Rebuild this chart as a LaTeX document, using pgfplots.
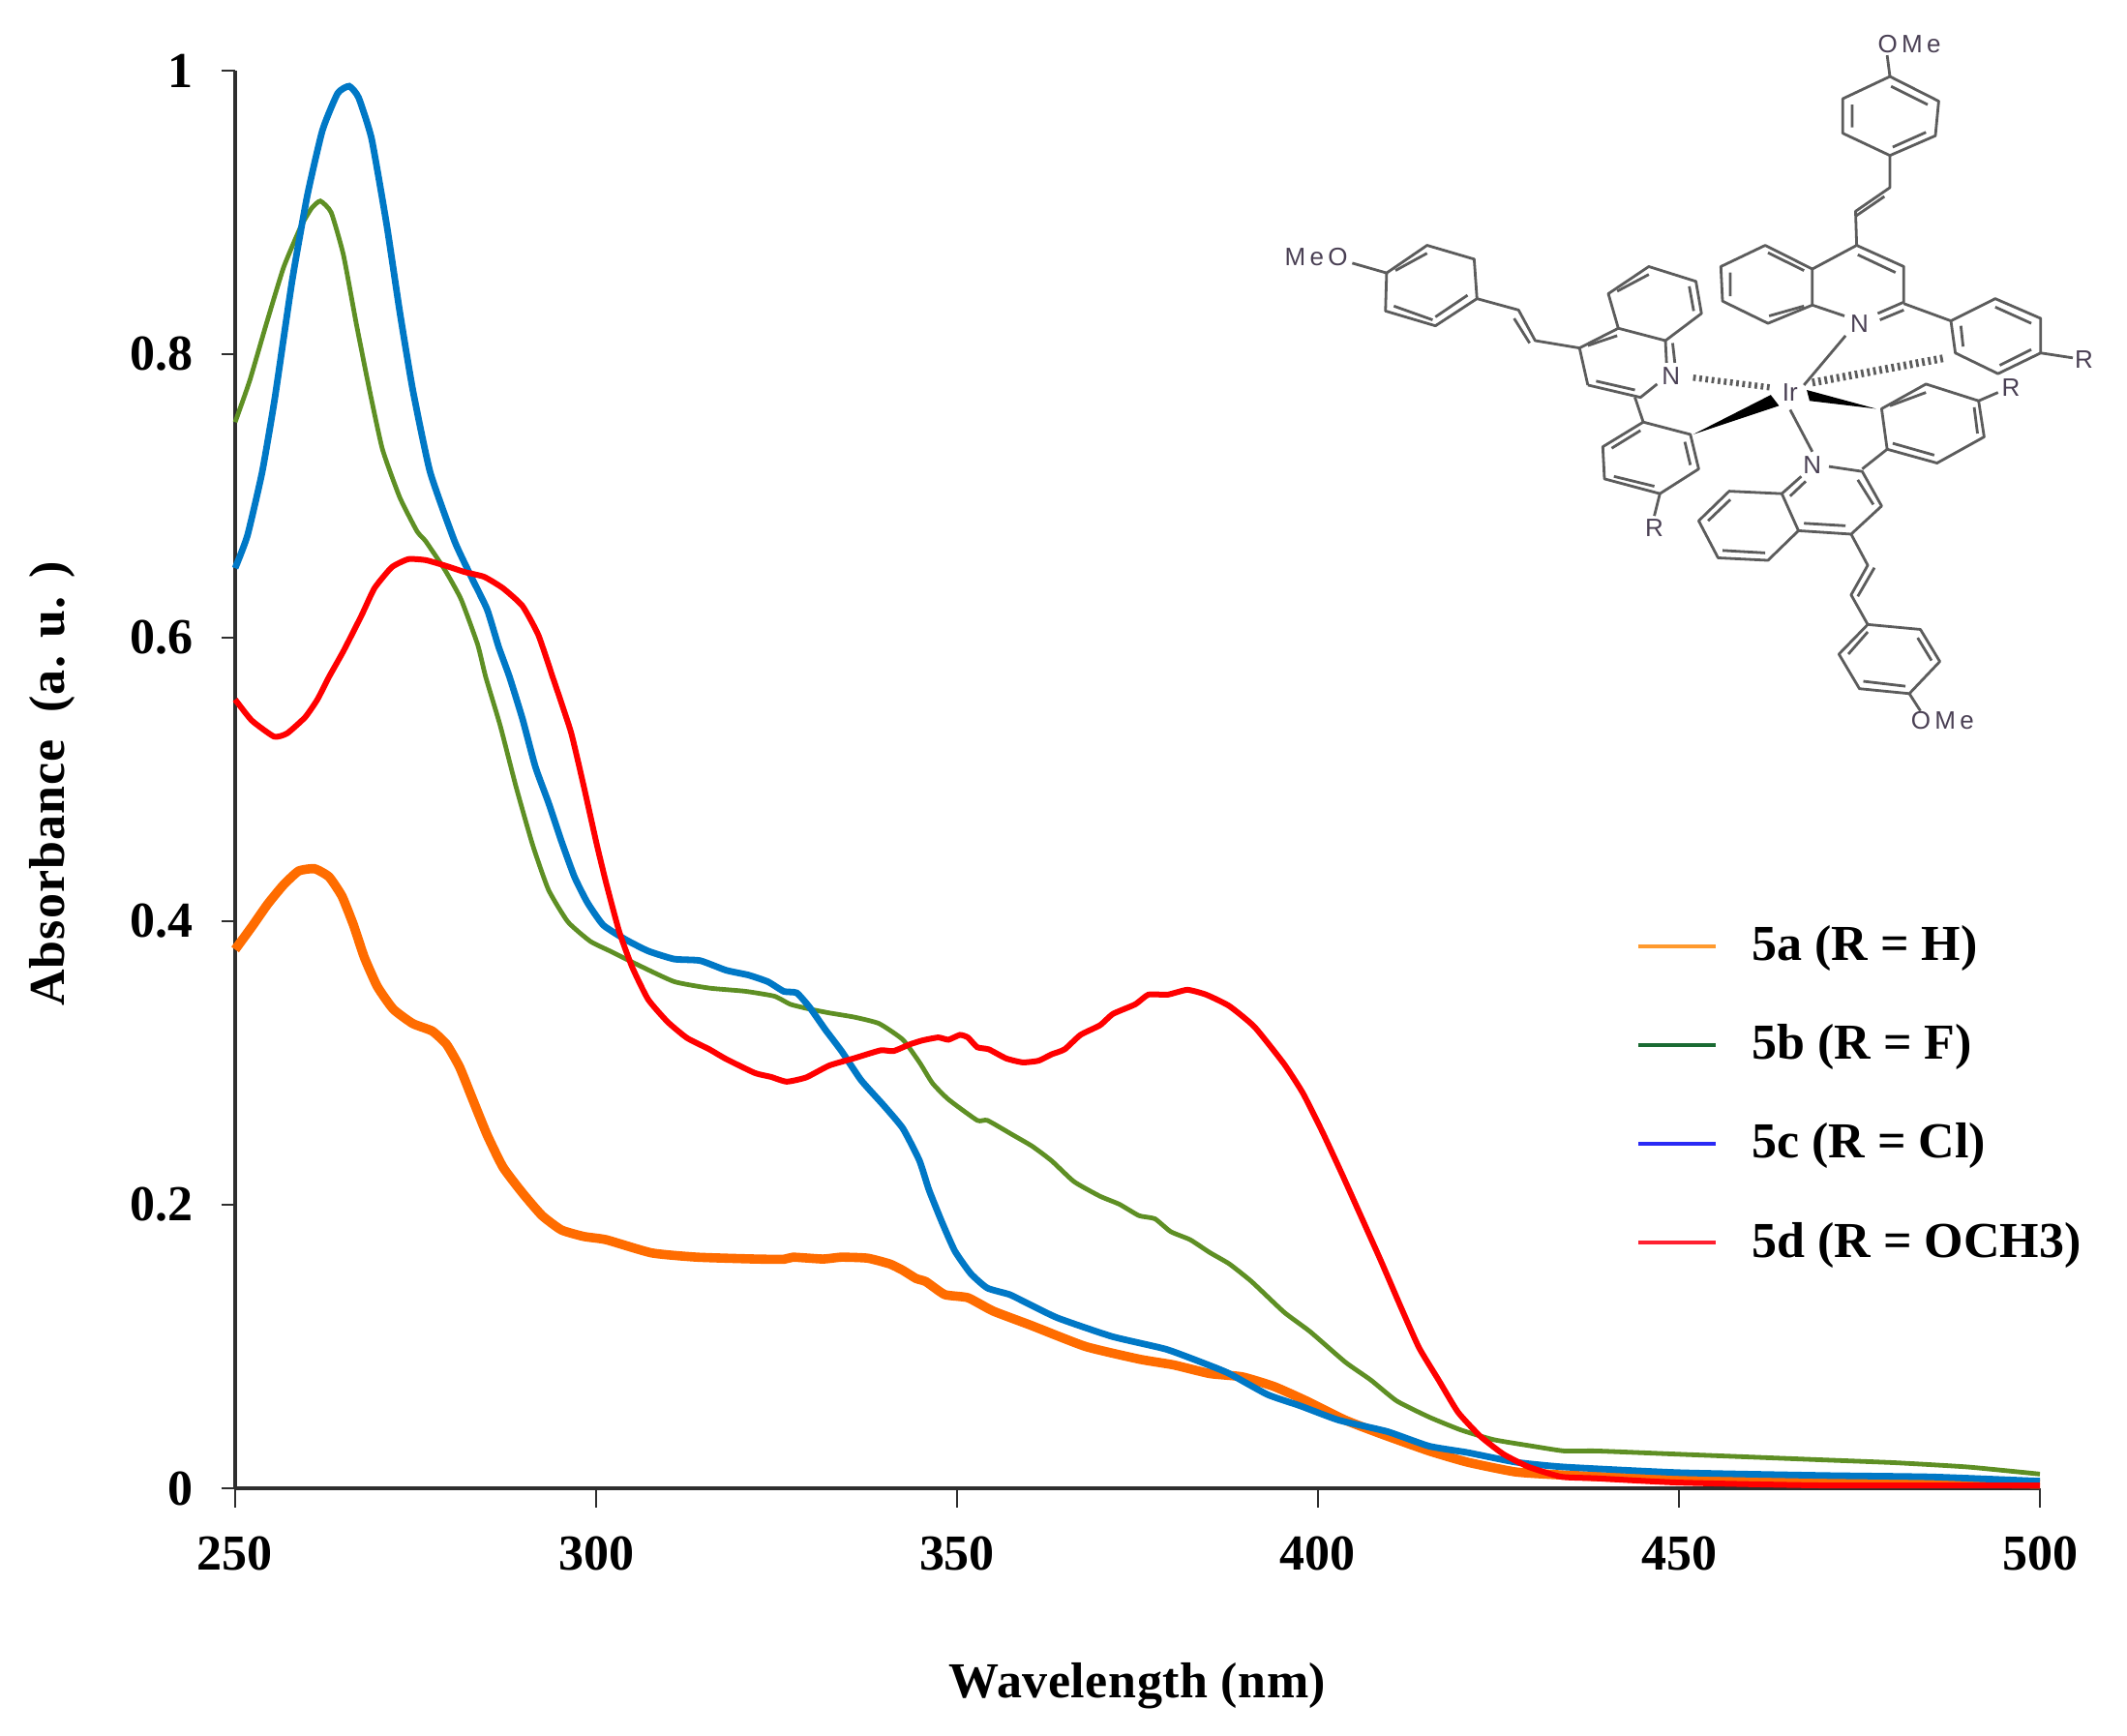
\documentclass[border=0pt]{standalone}
\usepackage{fontspec}
\setmainfont{Liberation Serif}
\newfontfamily\chemfont{Liberation Sans}
\usepackage{pgfplots}
\pgfplotsset{compat=1.18}

\definecolor{curveorange}{HTML}{FF6C00}
\definecolor{curvegreen}{HTML}{5E8F24}
\definecolor{curveblue}{HTML}{0078C6}
\definecolor{curvered}{HTML}{FF0000}
\definecolor{legorange}{HTML}{FF9A2E}
\definecolor{leggreen}{HTML}{1B6B33}
\definecolor{legblue}{HTML}{2A2AF5}
\definecolor{legred}{HTML}{FF2030}
\definecolor{chemline}{HTML}{5C5C5C}
\definecolor{chemtext}{HTML}{4A4054}
\definecolor{axisdark}{HTML}{2E2E2E}

\begin{document}
\begin{tikzpicture}
\useasboundingbox (-60.75pt,-64pt) rectangle (488.75pt,384.5pt);
\begin{axis}[
  scale only axis,
  width=466.25pt, height=366.25pt,
  xmin=250, xmax=500, ymin=0, ymax=1,
  axis x line=bottom, axis y line=left,
  x axis line style={-, axisdark, line width=1pt},
  y axis line style={-, axisdark, line width=0.8pt},
  xtick={250,300,350,400,450,500},
  ytick={0,0.2,0.4,0.6,0.8,1},
  tick align=outside,
  xtick style={axisdark, line width=0.6pt, /pgfplots/major tick length=5pt},
  ytick style={axisdark, line width=0.6pt, /pgfplots/major tick length=3.5pt},
  minor tick num=0,
  /pgf/number format/assume math mode=true,
  tick label style={font=\fontsize{13}{15}\selectfont\bfseries},
  xticklabel style={yshift=-4.75pt},
  yticklabel style={xshift=-3pt},
  xlabel={Wavelength (nm)},
  ylabel={Absorbance\ \ (a. u. )},
  xlabel style={font=\fontsize{13}{15}\selectfont\bfseries\addfontfeature{LetterSpace=1},
    at={(axis description cs:0.5,0)}, yshift=-51pt, anchor=center},
  ylabel style={font=\fontsize{13}{15}\selectfont\bfseries\addfontfeature{LetterSpace=2},
    at={(axis description cs:0,0.497)}, yshift=47.25pt, anchor=center},
  clip=false,
  legend cell align=left,
  legend image code/.code={\draw[#1] (0pt,0pt) -- (20pt,0pt); \path[draw=none] (0pt,0pt) -- (29.3pt,0pt);},
  legend style={
    at={(0.7759,0.3973)}, anchor=north west, draw=none, fill=none,
    inner sep=0pt, row sep=15pt,
    font=\fontsize{13}{15}\selectfont\bfseries,
    nodes={inner sep=0pt, anchor=west},
  },
]
% 5a
\addplot[forget plot, curveorange, line width=2.4pt, smooth, tension=0.3] coordinates {
(250,.380) (252.3,.396) (254.5,.412) (256.7,.4256) (258.8,.4354) (261,.437) (263,.4313)
(264.8,.4176) (266.4,.3972) (267.9,.3744) (269.7,.3539) (271.9,.338) (274.6,.3278)
(277.3,.3225) (279.3,.313) (281.1,.297) (282.9,.2743) (284.9,.2493) (287.1,.2265)
(289.8,.2083) (292.5,.1924) (295.2,.1822) (298.3,.1776) (301.4,.1753) (307.7,.166)
(314,.163) (322,.1617) (326,.1615) (327.3,.163) (331.4,.1617) (334,.163) (337.6,.1623)
(340.7,.1582) (342.5,.1537) (344.3,.148) (345.7,.1457) (348.3,.1366) (351.5,.1344)
(355,.125) (360.2,.115) (367.8,.1) (375.3,.091) (380,.087) (385,.0809) (389.5,.0786)
(393.9,.0718) (398.4,.0616) (403.8,.048) (409.1,.0377) (415.4,.0263) (420.7,.0184)
(427.4,.0115) (434.1,.0093) (450,.006) (470,.005) (500,.003)
};
% 5b
\addplot[forget plot, curvegreen, line width=1.2pt, smooth, tension=0.3] coordinates {
(250,.752) (252,.781) (254.3,.821) (256.7,.861) (259.1,.89) (260.6,.903) (261.8,.908)
(263.3,.9) (265,.87) (266.8,.821) (268.6,.775) (270.4,.733) (272.8,.699) (275.2,.675)
(276.4,.668) (279.1,.6474) (281.3,.627) (283.6,.595) (284.7,.5724) (286.7,.5383)
(288.9,.495) (291.2,.454) (293.4,.4222) (296.1,.3995) (299.2,.3858) (301.9,.379)
(305.5,.3699) (310.8,.3574) (315.7,.3528) (320.6,.3506) (324.7,.3471) (326.9,.3414)
(329.6,.338) (332.3,.3353) (335.8,.3323) (339.2,.3278) (342.5,.3164) (344.8,.3004)
(346.6,.2857) (348.8,.2743) (352.8,.2595) (354.2,.2595) (357.7,.2493) (360.4,.2413)
(363.1,.231) (366.2,.2163) (369.8,.206) (372.5,.2003) (375.2,.1923) (377.4,.1901)
(379.6,.181) (382.3,.1753) (385,.1663) (387.7,.1583) (390.8,.1458) (395.3,.1242)
(398.9,.1105) (403.8,.0889) (407.3,.0764) (410.9,.0616) (415.4,.0502) (419.8,.0411)
(424.3,.0343) (429.7,.0297) (434.1,.0263) (438.6,.0263) (450,.024) (460,.022) (470,.02)
(480,.018) (490,.015) (500,.01)
};
% 5c
\addplot[forget plot, curveblue, line width=1.7pt, smooth, tension=0.3] coordinates {
(250,.649) (251.7,.672) (253.75,.717) (255.5,.769) (257.9,.852) (260,.912) (262.1,.958)
(264.2,.984) (265.8,.989) (267.1,.981) (268.9,.952) (271,.891) (272.8,.83) (274.6,.775)
(277,.717) (280.4,.668) (282.7,.643) (284.9,.62) (286.5,.5935) (288,.5724) (289.8,.5428)
(291.6,.5087) (293.4,.4837) (295.2,.4564) (297,.4313) (298.8,.4131) (301,.3972)
(304.1,.387) (307.2,.379) (310.8,.3733) (314.4,.3722) (318,.3654) (321.1,.362)
(323.8,.3573) (326,.3505) (327.8,.3494) (329.6,.3391) (331.8,.3232) (334,.3084)
(336.7,.2879) (339.9,.2697) (342.5,.2538) (344.8,.231) (346.1,.2106) (347.9,.1878)
(349.7,.1673) (351.9,.1514) (354.2,.1412) (357.3,.1366) (360,.1298) (364,.12)
(371.5,.107) (379,.098) (385,.0866) (387.7,.0809) (393,.0661) (397.5,.0582) (402.9,.048)
(409.6,.04) (415.4,.0297) (420.7,.0252) (427.4,.0184) (434.1,.015) (450,.011) (470,.009)
(485,.008) (500,.005)
};
% 5d
\addplot[forget plot, curvered, line width=1.5pt, smooth, tension=0.3] coordinates {
(250,.5564) (252.3,.5416) (255.4,.5302) (257.2,.5325) (259.7,.5439) (261.4,.5564)
(263,.5723) (265,.5905) (267.5,.6156) (269.3,.6349) (271.7,.6497) (274,.6554) (276.4,.6547)
(279.1,.6508) (281.8,.6463) (284.5,.6429) (287.1,.6349) (289.8,.6224) (292,.6019)
(294,.572) (296.5,.5337) (298.3,.495) (300.1,.454) (301.4,.4268) (303.2,.3927) (305,.3676)
(307.2,.3449) (309.9,.329) (312.6,.3176) (315.7,.3096) (318,.3028) (322,.2929) (324.2,.2902)
(326.4,.2868) (329.1,.2898) (332.3,.2982) (335.8,.3034) (339.4,.3089) (341.2,.3084)
(343.4,.313) (345.2,.3159) (347.4,.318) (348.8,.3164) (350.4,.3198) (351.5,.318)
(352.8,.3111) (354.4,.3096) (356.8,.3032) (359.1,.3004) (361.3,.3016) (363.1,.3061)
(364.9,.3096) (367.1,.3198) (369.8,.3266) (371.6,.3346) (374.7,.3414) (376.5,.3482)
(379.2,.3482) (381.9,.3516) (384.5,.3482) (387.7,.3402) (391.2,.3255) (395.3,.2993)
(397.9,.2788) (400.6,.2515) (403.3,.2219) (405.5,.197) (408.7,.1606) (411.4,.1287)
(414,.0991) (416.7,.0764) (419.4,.0536) (422.5,.0366) (425.7,.024) (429.2,.015)
(433.7,.0081) (438.6,.007) (450,.004) (470,.002) (500,.002)
};
\addlegendimage{legorange, line width=1.1pt}
\addlegendentry{5a (R = H)}
\addlegendimage{leggreen, line width=1.1pt}
\addlegendentry{5b (R = F)}
\addlegendimage{legblue, line width=1.1pt}
\addlegendentry{5c (R = Cl)}
\addlegendimage{legred, line width=1.1pt}
\addlegendentry{5d (R = OCH3)}
\end{axis}

% structure drawing, coordinates as read from the crop
\begin{scope}[shift={(264.25pt,384.5pt)}, x=0.1432pt, y=-0.12755pt,
  line width=0.7pt, draw=chemline, line join=round]
  % top arm
  \draw (1135,112)--(1140,155);
  \draw (1140,155)--(1228,205)--(1222,275)--(1140,315)--(1055,270)--(1055,200)--cycle;
  \draw (1142,175)--(1208,212) (1205,268)--(1145,298) (1072,258)--(1072,212);
  \draw (1140,315)--(1140,380)--(1078,428)--(1080,497);
  \draw (1130,398)--(1078,438);
  \draw (835,540)--(915,497)--(1000,545)--(1000,618)--(920,655)--(838,610)--cycle;
  \draw (920,512)--(985,548) (985,620)--(922,640) (852,600)--(852,552);
  \draw (1000,545)--(1080,497)--(1165,540)--(1165,612)--(1118,635);
  \draw (1000,618)--(1058,640);
  \draw (1082,516)--(1150,552) (1165,628)--(1122,648);
  \draw (1165,615)--(1250,650);
  \draw (1250,650)--(1330,605)--(1412,645)--(1412,715)--(1335,757)--(1258,715)--cycle;
  \draw (1330,622)--(1395,655) (1395,708)--(1338,740) (1272,702)--(1268,660);
  \draw (1412,715)--(1470,725);
  \draw (1060,680)--(985,780);
  \draw[dash pattern=on 0.7pt off 0.9pt, line width=2pt] (1000,775)--(1240,725);
  % left arm
  \draw (170,533)--(232,553);
  \draw (232,553)--(305,497)--(390,525)--(395,605)--(320,660)--(230,630)--cycle;
  \draw (248,548)--(305,513) (378,598)--(320,642) (245,620)--(315,648);
  \draw (395,605)--(470,628)--(500,690)--(580,705);
  \draw (462,645)--(490,695);
  \draw (595,780)--(580,705)--(650,665)--(735,690)--(737,735);
  \draw (720,778)--(690,805)--(595,780);
  \draw (595,700)--(648,680) (610,772)--(680,790);
  \draw (650,665)--(632,595)--(705,540)--(790,570)--(800,635)--(735,690);
  \draw (648,590)--(705,556) (778,580)--(786,630);
  \draw (748,695)--(752,735);
  \draw[dash pattern=on 0.7pt off 0.9pt, line width=1.6pt] (785,765)--(925,785);
  \draw (680,805)--(695,855);
  \draw (695,855)--(780,880)--(795,950)--(725,1000)--(625,970)--(622,905)--cycle;
  \draw (690,872)--(638,908) (770,895)--(780,942) (715,985)--(642,965);
  \draw (725,1000)--(715,1045);
  \fill[black] (785,880)--(925,800)--(940,822)--cycle;
  % bottom arm
  \fill[black] (1115,828)--(990,790)--(995,812)--cycle;
  \draw (960,830)--(1000,915);
  \draw (1125,828)--(1205,778)--(1300,812)--(1310,885)--(1225,938)--(1135,910)--cycle;
  \draw (1140,822)--(1205,795) (1292,825)--(1298,878) (1220,922)--(1145,898);
  \draw (1300,812)--(1335,795);
  \draw (1135,910)--(1090,950);
  \draw (1030,945)--(1090,955)--(1125,1025)--(1070,1082)--(975,1075)--(945,1000)--(980,965);
  \draw (1082,972)--(1110,1022) (1060,1065)--(985,1060) (960,1005)--(988,975);
  \draw (945,1000)--(850,995)--(795,1055)--(830,1130)--(920,1135)--(975,1075);
  \draw (852,1012)--(812,1055) (838,1115)--(915,1120);
  \draw (1070,1082)--(1100,1145)--(1070,1205)--(1100,1265);
  \draw (1112,1150)--(1082,1208);
  \draw (1100,1265)--(1195,1275)--(1230,1340)--(1175,1405)--(1085,1395)--(1048,1325)--cycle;
  \draw (1190,1292)--(1215,1338) (1168,1390)--(1092,1380) (1065,1325)--(1100,1280);
  \draw (1175,1405)--(1195,1440);
  % labels
  \begin{scope}[every node/.style={font=\chemfont\fontsize{6.5}{7}\selectfont, text=chemtext, inner sep=0pt}]
    \node at (1175,90) {O\,M\,e};
    \node at (105,520) {M\,e\,O};
    \node at (1235,1460) {O\,M\,e};
    \node at (1085,655) {N};
    \node at (745,762) {N};
    \node at (1000,942) {N};
    \node at (960,795) {Ir};
    \node at (1490,728) {R};
    \node at (1358,785) {R};
    \node at (715,1070) {R};
  \end{scope}
\end{scope}
\end{tikzpicture}
\end{document}
